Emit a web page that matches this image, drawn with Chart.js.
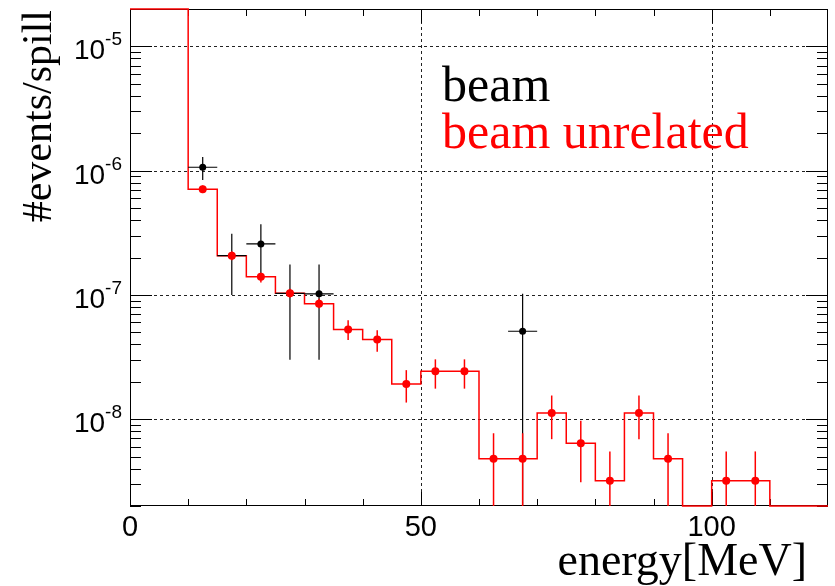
<!DOCTYPE html>
<html>
<head>
<meta charset="utf-8">
<script src="https://cdn.jsdelivr.net/npm/chart.js@4/dist/chart.umd.min.js"></script>
<style>
  html, body { margin: 0; padding: 0; background: #fff; }
</style>
</head>
<body>
<canvas id="energy-spectrum" width="835" height="586"></canvas>
<script>
/*
  Energy spectrum per spill, log scale.
  Red: beam unrelated (histogram + points), black: beam (points only).
*/

// lower bin edges in MeV (5 MeV bins), last entry closes the range
const binEdges = [0, 5, 10, 15, 20, 25, 30, 35, 40, 45, 50, 55, 60, 65, 70, 75, 80, 85, 90, 95, 100, 105, 110, 115, 120];

// beam unrelated, one value per bin (0 = empty bin)
const unrelatedRate = [4e-5, 4e-5, 7.1e-7, 2.07e-7, 1.40e-7, 1.03e-7, 8.5e-8, 5.27e-8, 4.38e-8, 1.92e-8, 2.43e-8, 2.43e-8,
  4.8e-9, 4.8e-9, 1.12e-8, 6.4e-9, 3.2e-9, 1.12e-8, 4.8e-9, 0, 3.2e-9, 3.2e-9, 0, 0];
const unrelatedLow = [null, null, 6.6e-7, 1.9e-7, 1.26e-7, 9.5e-8, 7.8e-8, 4.33e-8, 3.49e-8, 1.36e-8, 1.76e-8, 1.76e-8,
  0, 0, 6.9e-9, 3.1e-9, 0, 6.9e-9, 0, null, 0, 0, null, null];
const unrelatedHigh = [null, null, 7.6e-7, 2.25e-7, 1.51e-7, 1.12e-7, 9.3e-8, 6.25e-8, 5.2e-8, 2.48e-8, 3.03e-8, 3.03e-8,
  7.7e-9, 7.7e-9, 1.55e-8, 9.7e-9, 5.5e-9, 1.55e-8, 7.7e-9, null, 5.5e-9, 5.5e-9, null, null];

// beam, only the non-empty bins
const beamEnergy = [12.5, 17.5, 22.5, 27.5, 32.5, 67.5];
const beamRate = [1.065e-6, 2.07e-7, 2.57e-7, 1.03e-7, 1.02e-7, 5.1e-8];
const beamLow = [8.4e-7, 1.0e-7, 1.48e-7, 3.0e-8, 3.0e-8, 0];
const beamHigh = [1.29e-6, 3.1e-7, 3.7e-7, 1.76e-7, 1.76e-7, 1.02e-7];

const binHalfWidth = 2.5;
const yMin = 2e-9;
const yMax = 2e-5;
const yDecades = [-5, -6, -7, -8];
const xLabels = [0, 50, 100];

const RED = '#ff0000';

// empty / overflowing bins sit on the frame
const clampY = (v) => Math.min(Math.max(v, yMin), yMax);

const histPoints = binEdges.map((e, i) => ({
  x: e,
  y: clampY(unrelatedRate[Math.min(i, unrelatedRate.length - 1)]),
}));

const unrelatedPoints = [];
unrelatedRate.forEach((v, i) => {
  if (unrelatedLow[i] === null) return;
  unrelatedPoints.push({ x: binEdges[i] + binHalfWidth, y: v, lo: unrelatedLow[i], hi: unrelatedHigh[i] });
});

const beamPoints = beamEnergy.map((x, i) => ({ x: x, y: beamRate[i], lo: beamLow[i], hi: beamHigh[i] }));

/* error bars, drawn just before each point dataset */
const errorBars = {
  id: 'errorBars',
  beforeDatasetDraw(chart, args) {
    const ds = chart.data.datasets[args.index];
    if (!ds.errorBars) return;
    const { ctx, chartArea: a } = chart;
    const xs = chart.scales.x;
    const ys = chart.scales.y;
    ctx.save();
    ctx.beginPath();
    ctx.rect(a.left, a.top, a.right - a.left, a.bottom - a.top);
    ctx.clip();
    ctx.strokeStyle = ds.backgroundColor;
    ctx.lineWidth = ds.errorWidth;
    ds.data.forEach((p) => {
      const px = xs.getPixelForValue(p.x);
      const top = ys.getPixelForValue(p.hi);
      const bot = p.lo > 0 ? ys.getPixelForValue(p.lo) : a.bottom;
      ctx.beginPath();
      ctx.moveTo(px, top);
      ctx.lineTo(px, bot);
      if (ds.errorBars === 'xy') {
        const py = ys.getPixelForValue(p.y);
        ctx.moveTo(xs.getPixelForValue(p.x - binHalfWidth), py);
        ctx.lineTo(xs.getPixelForValue(p.x + binHalfWidth), py);
      }
      ctx.stroke();
    });
    ctx.restore();
  },
};

/* ROOT style frame: inside ticks, dotted grid, 10^n labels, titles */
const rootFrame = {
  id: 'rootFrame',
  beforeDatasetsDraw(chart) {
    const { ctx, chartArea: a } = chart;
    const xs = chart.scales.x;
    const ys = chart.scales.y;
    ctx.save();

    // dotted grid
    ctx.strokeStyle = '#222';
    ctx.lineWidth = 1;
    ctx.setLineDash([3, 3]);
    ctx.beginPath();
    yDecades.forEach((k) => {
      const py = Math.round(ys.getPixelForValue(Math.pow(10, k))) + 0.5;
      ctx.moveTo(a.left, py);
      ctx.lineTo(a.right, py);
    });
    xLabels.forEach((v) => {
      if (v <= xs.min) return;
      const px = Math.round(xs.getPixelForValue(v)) + 0.5;
      ctx.moveTo(px, a.top);
      ctx.lineTo(px, a.bottom);
    });
    ctx.stroke();
    ctx.setLineDash([]);

    // frame
    ctx.strokeStyle = '#000';
    ctx.strokeRect(a.left + 0.5, a.top + 0.5, a.right - a.left - 1, a.bottom - a.top - 1);

    // x ticks, top and bottom
    ctx.beginPath();
    for (let v = 10; v < 120; v += 10) {
      const px = Math.round(xs.getPixelForValue(v)) + 0.5;
      const len = v % 50 === 0 ? 14 : 7;
      ctx.moveTo(px, a.bottom);
      ctx.lineTo(px, a.bottom - len);
      ctx.moveTo(px, a.top);
      ctx.lineTo(px, a.top + len);
    }
    // y ticks, left and right
    for (let k = -9; k <= -5; k++) {
      for (let m = 1; m <= 9; m++) {
        const v = m * Math.pow(10, k);
        if (v < yMin || v > yMax) continue;
        const py = Math.round(ys.getPixelForValue(v)) + 0.5;
        const len = m === 1 ? 22 : 11;
        ctx.moveTo(a.left, py);
        ctx.lineTo(a.left + len, py);
        ctx.moveTo(a.right, py);
        ctx.lineTo(a.right - len, py);
      }
    }
    ctx.stroke();

    // y labels 10^k
    ctx.fillStyle = '#000';
    ctx.textBaseline = 'alphabetic';
    yDecades.forEach((k) => {
      const py = ys.getPixelForValue(Math.pow(10, k));
      const sup = String(k);
      ctx.font = '19px "Liberation Sans", Arial, sans-serif';
      const supW = ctx.measureText(sup).width;
      ctx.textAlign = 'right';
      ctx.fillText(sup, 122, py - 1);
      ctx.font = '28px "Liberation Sans", Arial, sans-serif';
      ctx.fillText('10', 122 - supW, py + 13);
    });

    // x labels
    ctx.font = '29px "Liberation Sans", Arial, sans-serif';
    ctx.textAlign = 'center';
    xLabels.forEach((v) => {
      ctx.fillText(String(v), xs.getPixelForValue(v), 536);
    });

    // axis titles
    ctx.font = '46px "Liberation Serif", "Times New Roman", serif';
    ctx.textAlign = 'right';
    ctx.fillText('energy[MeV]', 807, 575);

    ctx.save();
    ctx.translate(51, 10);
    ctx.rotate(-Math.PI / 2);
    ctx.font = '42px "Liberation Serif", "Times New Roman", serif';
    ctx.textAlign = 'right';
    ctx.fillText('#events/spill', 0, 0);
    ctx.restore();

    // legend text
    ctx.font = '50px "Liberation Serif", "Times New Roman", serif';
    ctx.textAlign = 'left';
    ctx.fillStyle = '#000';
    ctx.fillText('beam', 442, 101);
    ctx.fillStyle = RED;
    ctx.fillText('beam unrelated', 442, 148);

    ctx.restore();
  },
};

const config = {
  type: 'scatter',
  data: {
    datasets: [
      {
        label: 'beam unrelated',
        data: unrelatedPoints,
        backgroundColor: RED,
        borderWidth: 0,
        pointRadius: 4,
        errorBars: 'y',
        errorWidth: 1.5,
        order: 1,
      },
      {
        label: 'beam',
        data: beamPoints,
        backgroundColor: '#000',
        borderWidth: 0,
        pointRadius: 3.5,
        errorBars: 'xy',
        errorWidth: 1.2,
        order: 2,
      },
      {
        type: 'line',
        label: 'beam unrelated histogram',
        data: histPoints,
        borderColor: RED,
        borderWidth: 1.5,
        stepped: true,
        pointRadius: 0,
        fill: false,
        clip: false,
        order: 3,
      },
    ],
  },
  options: {
    responsive: false,
    animation: false,
    layout: {
      padding: { left: 130, top: 9, right: 7, bottom: 80 },
    },
    plugins: {
      legend: { display: false },
      tooltip: { enabled: false },
    },
    scales: {
      x: { type: 'linear', min: 0, max: 120, display: false },
      y: { type: 'logarithmic', min: yMin, max: yMax, display: false },
    },
  },
  plugins: [errorBars, rootFrame],
};

new Chart(document.getElementById('energy-spectrum'), config);
</script>
</body>
</html>
